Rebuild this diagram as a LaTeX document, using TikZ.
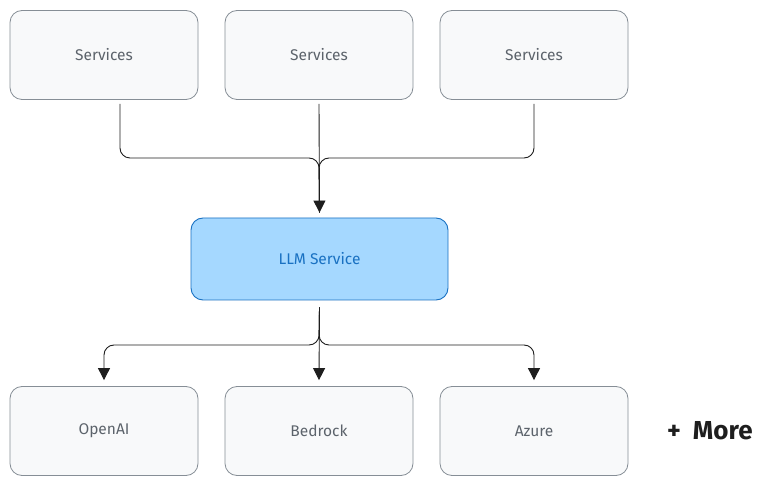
\documentclass[tikz,border=0pt]{standalone}
\usepackage{fontspec}
\setmainfont{Fira Sans}
\usetikzlibrary{arrows.meta}
\definecolor{boxfill}{HTML}{F8F9FA}
\definecolor{boxline}{HTML}{868E96}
\definecolor{boxtext}{HTML}{5C636B}
\definecolor{llmfill}{HTML}{A5D8FF}
\definecolor{llmline}{HTML}{1971C2}
\definecolor{conn}{HTML}{1E1E1E}
\tikzset{
  card/.style={draw=boxline, fill=boxfill, line width=0.8pt, rounded corners=12pt,
    minimum width=188pt, minimum height=89pt, text=boxtext, font=\fontsize{15.5}{18}\selectfont},
  llmcard/.style={draw=llmline, fill=llmfill, line width=0.9pt, rounded corners=12pt,
    minimum width=257pt, minimum height=82pt, text=llmline, font=\fontsize{15.5}{18}\selectfont},
  conline/.style={draw=conn, line width=0.9pt, rounded corners=10pt},
  arr/.style={-{Triangle[length=12pt,width=12pt]}}
}
\begin{document}
\begin{tikzpicture}[x=1pt,y=-1pt]
\useasboundingbox[fill=white] (0,0) rectangle (774,486);
% top row
\node[card] (s1) at (104,55) {Services};
\node[card] (s2) at (319,55) {Services};
\node[card] (s3) at (534,55) {Services};
% middle
\node[llmcard] (llm) at (319.5,259) {LLM Service};
% bottom row
\node[card] (oa) at (104,431) {OpenAI};
\node[card] (bd) at (319,431) {Bedrock};
\node[card] (az) at (534,431) {Azure};
\node[font=\fontsize{26}{29}\selectfont\bfseries, text=conn, anchor=west, inner sep=0pt] (more) at (667,431) {+\hspace{12pt}More};
% connectors top
\coordinate (s1o) at ([xshift=16pt,yshift=-4pt]s1.south);
\coordinate (s2o) at ([yshift=-4pt]s2.south);
\coordinate (s3o) at ([yshift=-4pt]s3.south);
\coordinate (llmi) at ([yshift=5pt]llm.north);
\coordinate (jt) at (319,158);
\draw[conline] (s1o) |- (jt) -- (llmi);
\draw[conline] (s3o) |- (jt) -- (llmi);
\draw[conline,arr] (s2o) -- (llmi);
% connectors bottom
\coordinate (llmo) at ([yshift=-7pt]llm.south);
\coordinate (jb) at (319,345);
\coordinate (oai) at ([yshift=6pt]oa.north);
\coordinate (bdi) at ([yshift=6pt]bd.north);
\coordinate (azi) at ([yshift=6pt]az.north);
\draw[conline,arr] (llmo) -- (jb) -| (oai);
\draw[conline,arr] (llmo) -- (jb) -| (azi);
\draw[conline,arr] (llmo) -- (bdi);
\end{tikzpicture}
\end{document}
